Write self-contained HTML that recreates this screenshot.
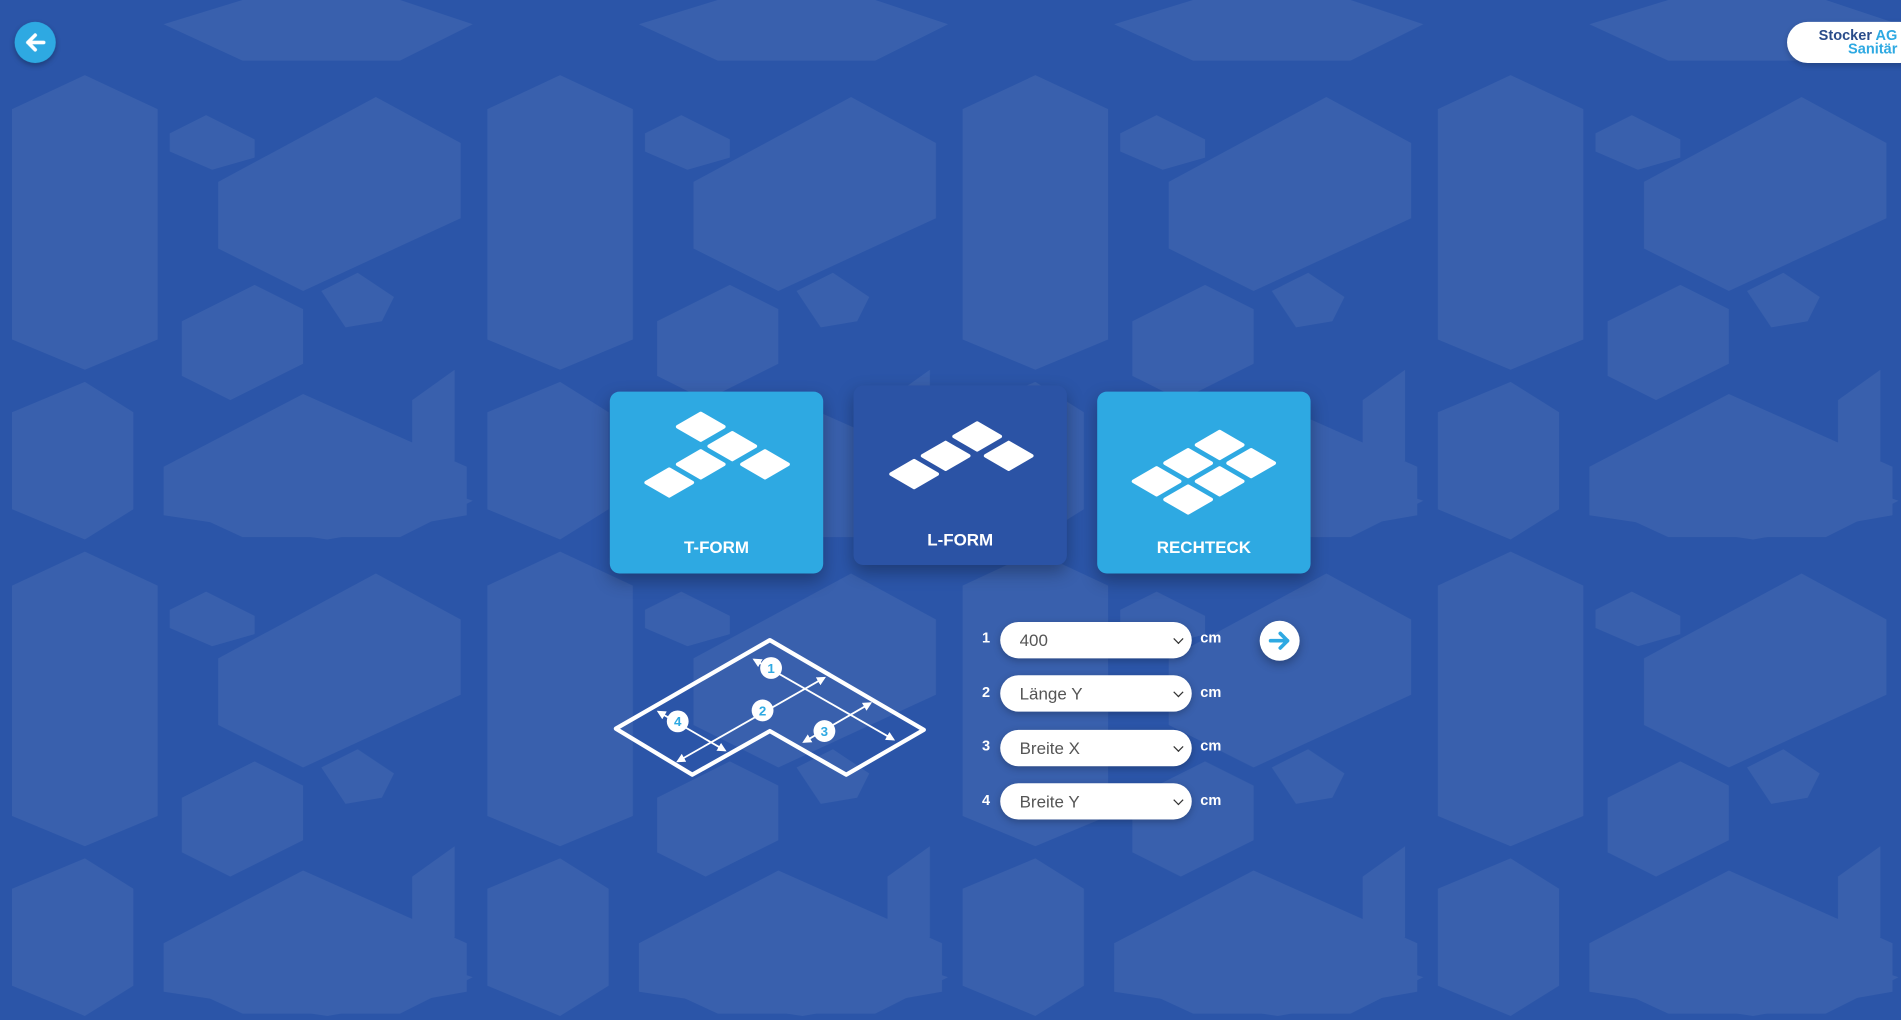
<!DOCTYPE html>
<html><head><meta charset="utf-8"><style>
html,body{margin:0;padding:0;width:1901px;height:1019px;overflow:hidden;background:#2b55a8;font-family:"Liberation Sans",sans-serif}
#s{position:absolute;left:0;top:0;width:1568px;height:841px;overflow:hidden;transform:scale(1.21237);transform-origin:0 0}
.card{position:absolute;border-radius:8px;box-shadow:0 6px 14px rgba(0,0,0,.3);color:#fff;font-weight:bold;font-size:14px;text-align:center}
.lbl{position:absolute;color:#fff;font-weight:bold;font-size:12px}
.sel{position:absolute;left:825px;width:158px;height:30px;border-radius:15px;background:#fff;box-shadow:0 2px 6px rgba(0,0,0,.25);font-size:14px;color:#555;line-height:30px;text-indent:16px}
.sel:after{content:"";position:absolute;right:8px;top:11px;width:5px;height:5px;border-right:1.5px solid #333;border-bottom:1.5px solid #333;transform:rotate(45deg)}
</style></head><body><div id="s">
<svg width="1568" height="841" style="position:absolute;left:0;top:0;display:block">
<g fill="#fff" opacity="0.07">
<g id="p">
<path d="M10 90 L70 62 L130 90 L130 280 L70 305 L10 280Z"/>
<path d="M180 150 L310 80 L380 118 L380 180 L250 240 L180 205Z"/>
<path d="M140 110 L170 95 L210 115 L210 130 L175 140 L140 125Z"/>
<path d="M150 265 L210 235 L250 255 L250 300 L190 330 L150 310Z"/>
<path d="M265 240 L295 225 L325 245 L315 265 L285 270 Z"/>
<path d="M135 20 L200 0 L330 0 L390 20 L330 50 L200 50Z"/>
<path d="M10 340 L70 315 L110 340 L110 420 L70 445 L10 420Z"/>
<path d="M135 385 L250 325 L385 385 L385 425 L270 445 L135 425Z"/>
<path d="M340 330 L375 305 L375 380 L340 400Z"/>
</g>
<use href="#p" x="392"/><use href="#p" x="784"/><use href="#p" x="1176"/>
<use href="#p" y="393"/><use href="#p" x="392" y="393"/><use href="#p" x="784" y="393"/><use href="#p" x="1176" y="393"/>
<use href="#p" y="786"/><use href="#p" x="392" y="786"/><use href="#p" x="784" y="786"/><use href="#p" x="1176" y="786"/>
</g>
</svg>
<div style="position:absolute;left:12px;top:18px;width:34px;height:34px;border-radius:50%;background:#2ea9e2;box-shadow:0 2px 5px rgba(0,0,0,.3)"></div>
<svg style="position:absolute;left:12px;top:18px" width="34" height="34"><path d="M24 17H11M17 11l-6 6 6 6" stroke="#fff" stroke-width="3" fill="none" stroke-linecap="round" stroke-linejoin="round"/></svg>
<div style="position:absolute;left:1474px;top:18px;width:110px;height:34px;border-radius:17px;background:#fff;box-shadow:0 2px 5px rgba(0,0,0,.2)"></div>
<div style="position:absolute;left:1490px;top:24px;font-weight:bold;font-size:12px;line-height:11px;text-align:right;width:75px"><span style="color:#2a4c8a">Stocker</span> <span style="color:#2ea9e2">AG</span><br><span style="color:#2ea9e2">Sanitär</span></div>

<div class="card" style="left:503px;top:323px;width:176px;height:150px;background:#2ea9e2"><div style="position:absolute;bottom:14px;width:100%">T-FORM</div></div>
<div class="card" style="left:704px;top:318px;width:176px;height:148px;background:#2b53a5"><div style="position:absolute;bottom:13px;width:100%">L-FORM</div></div>
<div class="card" style="left:905px;top:323px;width:176px;height:150px;background:#2ea9e2"><div style="position:absolute;bottom:14px;width:100%">RECHTECK</div></div>
<svg width="1568" height="841" style="position:absolute;left:0;top:0">
<defs><path id="t" d="M0 -11 L19 0 L0 11 L-19 0Z" fill="#fff" stroke="#fff" stroke-width="3" stroke-linejoin="round"/>
<marker id="a" viewBox="0 0 10 10" refX="8" refY="5" markerWidth="5" markerHeight="5" orient="auto-start-reverse"><path d="M0 0L10 5L0 10Z" fill="#fff"/></marker></defs>
<use href="#t" x="578" y="352"/><use href="#t" x="604" y="368"/><use href="#t" x="631" y="383"/><use href="#t" x="578" y="383"/><use href="#t" x="552" y="398"/>
<use href="#t" x="806" y="360"/><use href="#t" x="780" y="376"/><use href="#t" x="832" y="376"/><use href="#t" x="754" y="391"/>
<use href="#t" x="1006" y="367"/><use href="#t" x="980" y="382"/><use href="#t" x="1032" y="382"/><use href="#t" x="954" y="397"/><use href="#t" x="1006" y="397"/><use href="#t" x="980" y="412"/>
<path d="M635 528 L762 602 L698 639 L635 603 L571 639 L508 601Z" fill="none" stroke="#fff" stroke-width="3.5" stroke-linejoin="round"/>
<g stroke="#fff" stroke-width="1.5" marker-start="url(#a)" marker-end="url(#a)">
<line x1="622" y1="544" x2="737" y2="610"/><line x1="559" y1="628" x2="680" y2="559"/>
<line x1="663" y1="612" x2="718" y2="580"/><line x1="543" y1="587" x2="598" y2="619"/></g>
<g fill="#fff"><circle cx="636" cy="551" r="9"/><circle cx="629" cy="586" r="9"/><circle cx="680" cy="603" r="9"/><circle cx="559" cy="595" r="9"/></g>
<g fill="#2ea9e2" font-family="Liberation Sans" font-weight="bold" font-size="11" text-anchor="middle"><text x="636" y="555">1</text><text x="629" y="590">2</text><text x="680" y="607">3</text><text x="559" y="599">4</text></g>
</svg>
<div class="lbl" style="left:810px;top:519px">1</div><div class="sel" style="top:513px">400</div><div class="lbl" style="left:990px;top:519px">cm</div>
<div class="lbl" style="left:810px;top:564px">2</div><div class="sel" style="top:557px">Länge Y</div><div class="lbl" style="left:990px;top:564px">cm</div>
<div class="lbl" style="left:810px;top:608px">3</div><div class="sel" style="top:602px">Breite X</div><div class="lbl" style="left:990px;top:608px">cm</div>
<div class="lbl" style="left:810px;top:653px">4</div><div class="sel" style="top:646px">Breite Y</div><div class="lbl" style="left:990px;top:653px">cm</div>
<div style="position:absolute;left:1039px;top:512px;width:33px;height:33px;border-radius:50%;background:#fff;box-shadow:0 3px 8px rgba(0,0,0,.3)"></div>
<svg style="position:absolute;left:1039px;top:512px" width="33" height="33"><path d="M9 16.5H23M17 10.5l6 6-6 6" stroke="#2ea9e2" stroke-width="3" fill="none" stroke-linecap="round" stroke-linejoin="round"/></svg>
</div></body></html>
